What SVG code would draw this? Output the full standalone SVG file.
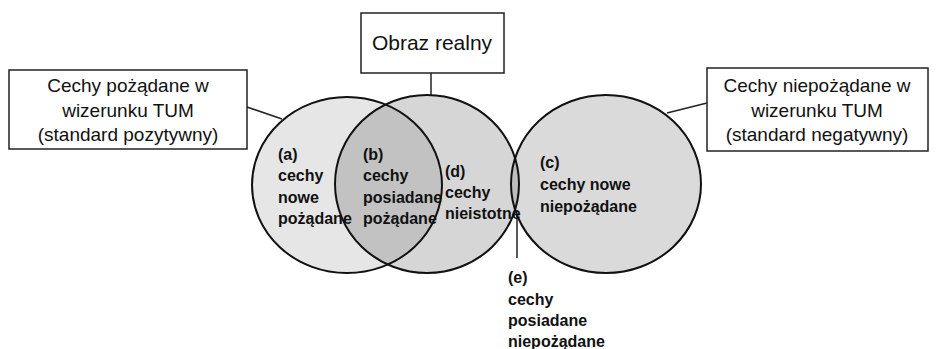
<svg xmlns="http://www.w3.org/2000/svg" width="937" height="349" viewBox="0 0 937 349">
<style>
.box{fill:#fff;stroke:#222;stroke-width:1.5}
.circ{fill:none;stroke:#111;stroke-width:2}
.lbl{font-family:"Liberation Sans",Arial,sans-serif;font-size:19px;fill:#111;text-anchor:middle}
.b{font-family:"Liberation Sans",Arial,sans-serif;font-size:16px;font-weight:bold;fill:#111}
.con{stroke:#222;stroke-width:1.5;fill:none}
</style>
<defs>
<clipPath id="clipL"><ellipse cx="347" cy="185" rx="95" ry="88"/></clipPath>
<clipPath id="clipR"><ellipse cx="606" cy="184" rx="95" ry="89"/></clipPath>
</defs>
<g id="connectors">
<line class="con" x1="247" y1="107" x2="282" y2="119"/>
<line class="con" x1="431" y1="73" x2="431" y2="96"/>
<line class="con" x1="707" y1="103" x2="667" y2="113"/>
<line class="con" x1="517" y1="190" x2="517" y2="258"/>
</g>
<g id="circle-a">
<ellipse cx="347" cy="185" rx="95" ry="88" fill="#e6e6e6"/>
</g>
<g id="circle-d">
<ellipse cx="427" cy="184" rx="92" ry="89" fill="#d6d6d6"/>
</g>
<g id="circle-c">
<ellipse cx="606" cy="184" rx="95" ry="89" fill="#dadada"/>
</g>
<g id="lens-b">
<ellipse cx="427" cy="184" rx="92" ry="89" fill="#c2c2c2" clip-path="url(#clipL)"/>
</g>
<g id="lens-e">
<ellipse cx="427" cy="184" rx="92" ry="89" fill="#bdbdbd" clip-path="url(#clipR)"/>
</g>
<g id="outlines">
<ellipse class="circ" cx="347" cy="185" rx="95" ry="88"/>
<ellipse class="circ" cx="427" cy="184" rx="92" ry="89"/>
<ellipse class="circ" cx="606" cy="184" rx="95" ry="89"/>
</g>
<g id="box-left">
<rect class="box" x="9" y="70" width="238" height="79"/>
<text class="lbl" x="128" y="92">Cechy pożądane w</text>
<text class="lbl" x="128" y="117">wizerunku TUM</text>
<text class="lbl" x="128" y="141">(standard pozytywny)</text>
</g>
<g id="box-top">
<rect class="box" x="361" y="13" width="143" height="60"/>
<text class="lbl" x="432" y="50" style="font-size:21px">Obraz realny</text>
</g>
<g id="box-right">
<rect class="box" x="707" y="68" width="221" height="83"/>
<text class="lbl" x="817" y="92">Cechy niepożądane w</text>
<text class="lbl" x="817" y="117">wizerunku TUM</text>
<text class="lbl" x="817" y="141">(standard negatywny)</text>
</g>
<g id="label-a">
<text class="b" x="278" y="160">(a)</text>
<text class="b" x="278" y="181">cechy</text>
<text class="b" x="278" y="203">nowe</text>
<text class="b" x="278" y="224">pożądane</text>
</g>
<g id="label-b">
<text class="b" x="363" y="160">(b)</text>
<text class="b" x="363" y="181">cechy</text>
<text class="b" x="363" y="203">posiadane</text>
<text class="b" x="363" y="224">pożądane</text>
</g>
<g id="label-d">
<text class="b" x="445" y="177">(d)</text>
<text class="b" x="445" y="198">cechy</text>
<text class="b" x="445" y="219">nieistotne</text>
</g>
<g id="label-c">
<text class="b" x="540" y="168">(c)</text>
<text class="b" x="540" y="190">cechy nowe</text>
<text class="b" x="540" y="212">niepożądane</text>
</g>
<g id="label-e">
<text class="b" x="508" y="283">(e)</text>
<text class="b" x="508" y="305">cechy</text>
<text class="b" x="508" y="326">posiadane</text>
<text class="b" x="508" y="347">niepożądane</text>
</g>
</svg>
